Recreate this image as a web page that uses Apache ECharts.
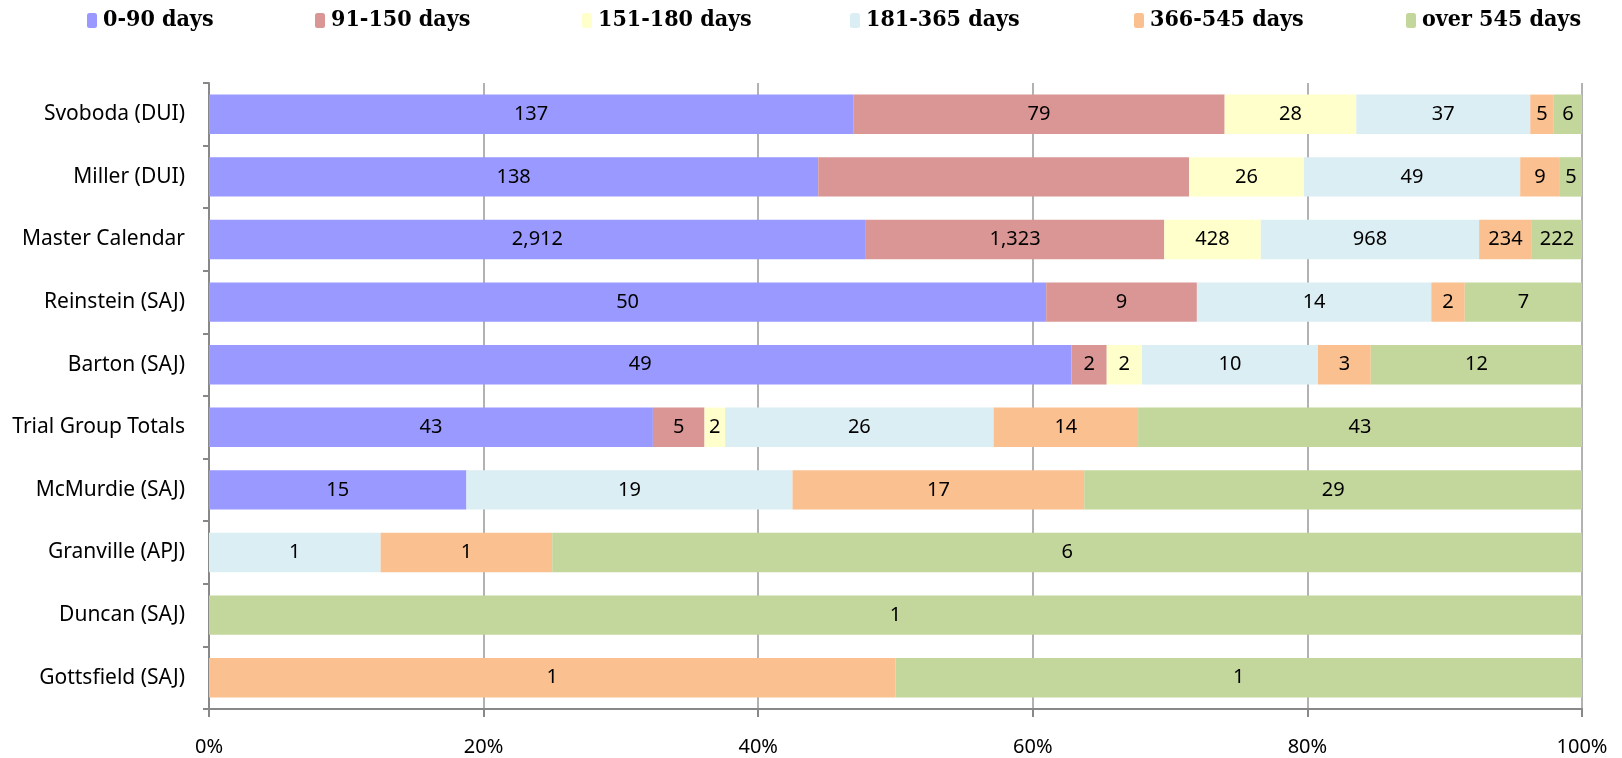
<!DOCTYPE html>
<html>
<head>
<meta charset="utf-8">
<script src="https://cdn.jsdelivr.net/npm/echarts@6/dist/echarts.min.js"></script>
<style>
  html, body { margin: 0; padding: 0; background: #fff; }
  #chart { width: 1622px; height: 758px; }
</style>
</head>
<body>
<div id="chart"></div>
<script>
// categories, top to bottom
var judges = ["Svoboda (DUI)", "Miller (DUI)", "Master Calendar", "Reinstein (SAJ)", "Barton (SAJ)",
  "Trial Group Totals", "McMurdie (SAJ)", "Granville (APJ)", "Duncan (SAJ)", "Gottsfield (SAJ)"];

var bucketNames = ["0-90 days", "91-150 days", "151-180 days", "181-365 days", "366-545 days", "over 545 days"];

// case counts per bucket, one value per judge (same order as judges)
var days0to90 = [137, 138, 2912, 50, 49, 43, 15, 0, 0, 0];
var days91to150 = [79, 84, 1323, 9, 2, 5, 0, 0, 0, 0];
var days151to180 = [28, 26, 428, 0, 2, 2, 0, 0, 0, 0];
var days181to365 = [37, 49, 968, 14, 10, 26, 19, 1, 0, 0];
var days366to545 = [5, 9, 234, 2, 3, 14, 17, 1, 0, 1];
var over545 = [6, 5, 222, 7, 12, 43, 29, 6, 1, 1];

// label on Miller's 91-150 segment is not shown in the original
var hiddenLabels = [[1, 1]];

var colors = ["#9999ff", "#d99694", "#ffffcc", "#dbeef4", "#fac090", "#c3d69b"];
var legendLeft = [87, 315, 582, 850, 1134, 1406];

var buckets = [days0to90, days91to150, days151to180, days181to365, days366to545, over545];

var totals = judges.map(function (j, i) {
  var s = 0;
  buckets.forEach(function (b) { s += b[i]; });
  return s;
});

var chart = echarts.init(document.getElementById("chart"));

var series = buckets.map(function (b, si) {
  return {
    name: bucketNames[si],
    type: "bar",
    stack: "all",
    barCategoryGap: "37%",
    itemStyle: { color: colors[si] },
    label: {
      show: true,
      position: "inside",
      color: "#000",
      fontFamily: "Noto Sans",
      fontSize: 20,
      formatter: function (p) {
        var v = b[p.dataIndex];
        if (!v) return "";
        for (var k = 0; k < hiddenLabels.length; k++) {
          if (hiddenLabels[k][0] === p.dataIndex && hiddenLabels[k][1] === si) return "";
        }
        return v.toLocaleString("en-US");
      }
    },
    data: b.map(function (v, i) { return v / totals[i] * 100; })
  };
});

var legends = bucketNames.map(function (n, i) {
  return {
    data: [n],
    left: legendLeft[i],
    top: 9,
    padding: 0,
    itemWidth: 10,
    itemHeight: 15,
    textStyle: {
      fontFamily: "DejaVu Serif Condensed, DejaVu Serif",
      fontWeight: "bold",
      fontSize: 23,
      padding: [0, 0, 0, 1],
      color: "#000"
    }
  };
});

chart.setOption({
  animation: false,
  legend: legends,
  grid: { left: 209, right: 40, top: 83, bottom: 49 },
  xAxis: {
    type: "value",
    min: 0,
    max: 100,
    interval: 20,
    axisLine: { show: true, lineStyle: { color: "#888", width: 2 } },
    axisTick: { show: true, length: 8, lineStyle: { color: "#888", width: 2 } },
    splitLine: { show: true, lineStyle: { color: "#999", width: 1.5 } },
    axisLabel: {
      formatter: "{value}%",
      color: "#000",
      fontFamily: "Noto Sans",
      fontSize: 20,
      margin: 28
    }
  },
  yAxis: {
    type: "category",
    inverse: true,
    data: judges,
    axisLine: { show: true, lineStyle: { color: "#888", width: 2 } },
    axisTick: { show: true, length: 6, lineStyle: { color: "#888", width: 2 } },
    axisLabel: {
      color: "#000",
      fontFamily: "Noto Sans",
      fontSize: 21,
      margin: 24
    }
  },
  series: series
});
</script>
</body>
</html>
